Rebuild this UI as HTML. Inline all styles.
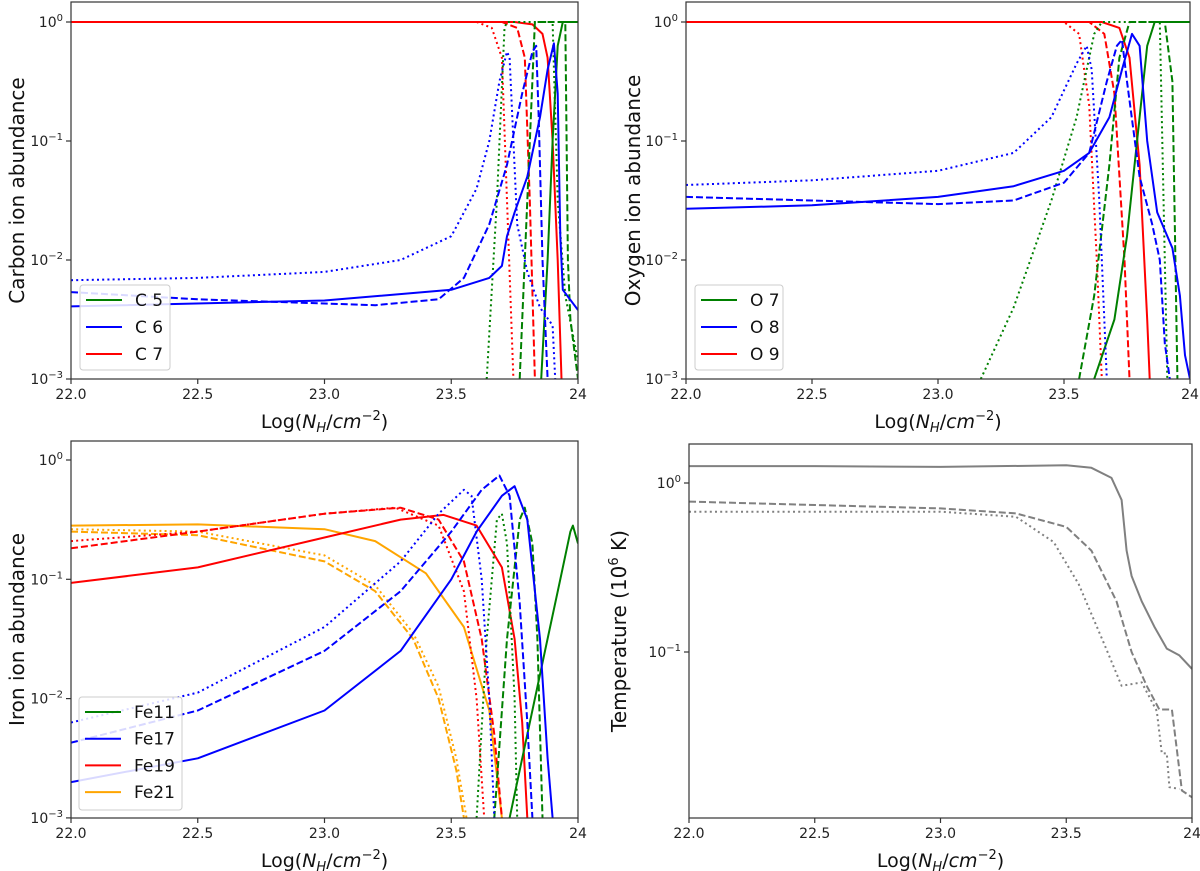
<!DOCTYPE html>
<html><head><meta charset="utf-8"><style>
body{margin:0;background:#fff;}
svg{display:block;font-family:"DejaVu Sans","Liberation Sans",sans-serif;}
</style></head><body>
<svg id="fig" width="1200" height="871" viewBox="0 0 1200 871" xmlns="http://www.w3.org/2000/svg"></svg>
<script>
// x values are log N_H, y values are log10 of abundance / temperature
const xTicks = [22.0, 22.5, 23.0, 23.5, 24];
const xTickLabels = ["22.0", "22.5", "23.0", "23.5", "24"];
const carbonYTicks = [0, -1, -2, -3];
const oxygenYTicks = [0, -1, -2, -3];
const ironYTicks = [0, -1, -2, -3];
const tempYTicks = [0, -1];

const c5Solid = [[23.855,-3],[23.88,-2],[23.9,-1],[23.92,-0.2],[23.94,0],[24,0]];
const c5Dashed = [[23.77,-3],[23.8,-1.5],[23.83,0],[23.95,0],[23.96,-2],[23.97,-2.5],[24,-3]];
const c5Dotted = [[23.64,-3],[23.68,-1.5],[23.71,-0.05],[23.72,0],[23.9,0],[23.92,-1.5],[23.95,-2.3],[24,-2.85]];
const c6Solid = [[22,-2.39],[23,-2.34],[23.5,-2.25],[23.65,-2.15],[23.7,-2.05],[23.72,-1.8],[23.75,-1.6],[23.8,-1.3],[23.85,-0.8],[23.88,-0.4],[23.905,-0.18],[23.92,-0.6],[23.93,-1.8],[23.94,-2.25],[24,-2.42]];
const c6Dashed = [[22,-2.27],[22.5,-2.33],[23.2,-2.38],[23.45,-2.33],[23.55,-2.15],[23.65,-1.7],[23.72,-1.2],[23.78,-0.6],[23.82,-0.25],[23.835,-0.2],[23.845,-0.8],[23.86,-2],[23.88,-3]];
const c6Dotted = [[22,-2.17],[22.5,-2.15],[23,-2.1],[23.3,-2.0],[23.5,-1.8],[23.6,-1.4],[23.65,-1.0],[23.69,-0.5],[23.72,-0.25],[23.73,-0.3],[23.76,-1.7],[23.8,-2.1],[23.85,-2.4],[23.9,-2.55],[23.91,-3]];
const c7Solid = [[22,0],[23.75,0],[23.82,-0.02],[23.86,-0.1],[23.88,-0.3],[23.9,-1],[23.92,-2],[23.935,-3]];
const c7Dashed = [[22,0],[23.7,0],[23.76,-0.05],[23.79,-0.3],[23.81,-1.5],[23.83,-3]];
const c7Dotted = [[22,0],[23.6,0],[23.66,-0.05],[23.7,-0.3],[23.72,-1.5],[23.745,-3]];

const o7Solid = [[23.62,-3],[23.7,-2.5],[23.75,-1.8],[23.8,-0.8],[23.83,-0.2],[23.86,0],[24,0]];
const o7Dashed = [[23.56,-3],[23.62,-2.3],[23.68,-1.2],[23.72,-0.3],[23.76,0],[23.9,0],[23.93,-0.5],[23.95,-3]];
const o7Dotted = [[23.17,-3],[23.3,-2.4],[23.45,-1.5],[23.55,-0.8],[23.62,-0.1],[23.65,0],[23.88,0],[23.89,-1],[23.91,-3]];
const o8Solid = [[22,-1.57],[22.5,-1.54],[23,-1.47],[23.3,-1.38],[23.5,-1.25],[23.6,-1.1],[23.68,-0.8],[23.73,-0.4],[23.77,-0.1],[23.8,-0.2],[23.83,-1.0],[23.87,-1.6],[23.93,-1.9],[23.96,-2.3],[23.98,-2.8],[24,-3]];
const o8Dashed = [[22,-1.47],[22.5,-1.5],[23,-1.53],[23.3,-1.5],[23.5,-1.35],[23.6,-1.1],[23.67,-0.5],[23.71,-0.2],[23.73,-0.15],[23.75,-0.5],[23.8,-1.3],[23.85,-1.7],[23.88,-2.0],[23.9,-2.7],[23.92,-3]];
const o8Dotted = [[22,-1.37],[22.5,-1.33],[23,-1.25],[23.3,-1.1],[23.45,-0.8],[23.55,-0.35],[23.59,-0.2],[23.61,-0.4],[23.64,-1.5],[23.66,-2.5],[23.67,-3]];
const o9Solid = [[22,0],[23.65,0],[23.72,-0.05],[23.76,-0.3],[23.8,-1.2],[23.83,-2.5],[23.84,-3]];
const o9Dashed = [[22,0],[23.6,0],[23.66,-0.1],[23.7,-0.6],[23.74,-2],[23.76,-3]];
const o9Dotted = [[22,0],[23.5,0],[23.56,-0.1],[23.6,-0.7],[23.63,-2],[23.65,-3]];

const fe11Solid = [[23.73,-3],[23.8,-2.3],[23.87,-1.6],[23.93,-1.0],[23.97,-0.6],[23.98,-0.55],[24,-0.7]];
const fe11Dashed = [[23.67,-3],[23.72,-1.5],[23.77,-0.5],[23.79,-0.4],[23.82,-0.7],[23.84,-1.5],[23.86,-3]];
const fe11Dotted = [[23.6,-3],[23.64,-1.5],[23.68,-0.5],[23.7,-0.45],[23.72,-0.7],[23.75,-2],[23.76,-3]];
const fe17Solid = [[22,-2.7],[22.5,-2.5],[23,-2.1],[23.3,-1.6],[23.5,-1.0],[23.6,-0.6],[23.7,-0.3],[23.75,-0.22],[23.8,-0.5],[23.85,-1.5],[23.88,-2.5],[23.9,-3]];
const fe17Dashed = [[22,-2.37],[22.5,-2.1],[23,-1.6],[23.3,-1.1],[23.5,-0.6],[23.62,-0.25],[23.69,-0.13],[23.73,-0.3],[23.77,-1.2],[23.8,-2.2],[23.82,-3]];
const fe17Dotted = [[22,-2.2],[22.5,-1.95],[23,-1.4],[23.3,-0.85],[23.45,-0.45],[23.55,-0.25],[23.58,-0.3],[23.62,-1],[23.65,-2],[23.67,-3]];
const fe19Solid = [[22,-1.03],[22.5,-0.9],[23,-0.65],[23.3,-0.5],[23.47,-0.46],[23.6,-0.55],[23.7,-0.9],[23.75,-1.5],[23.78,-2.2],[23.8,-3]];
const fe19Dashed = [[22,-0.74],[22.5,-0.6],[23,-0.45],[23.3,-0.4],[23.45,-0.5],[23.55,-0.85],[23.62,-1.5],[23.67,-2.3],[23.7,-3]];
const fe19Dotted = [[22,-0.68],[22.5,-0.6],[23,-0.45],[23.28,-0.4],[23.45,-0.55],[23.55,-1.1],[23.6,-2],[23.63,-3]];
const fe21Solid = [[22,-0.55],[22.5,-0.54],[23,-0.58],[23.2,-0.68],[23.4,-0.95],[23.55,-1.4],[23.65,-2.1],[23.7,-3]];
const fe21Dashed = [[22,-0.6],[22.5,-0.63],[23,-0.85],[23.2,-1.1],[23.35,-1.5],[23.45,-2],[23.52,-2.6],[23.55,-3]];
const fe21Dotted = [[22,-0.58],[22.5,-0.6],[23,-0.8],[23.2,-1.05],[23.35,-1.45],[23.45,-1.9],[23.52,-2.5],[23.56,-3]];

const tSolid = [[22,0.1],[22.5,0.1],[23,0.095],[23.5,0.105],[23.6,0.09],[23.68,0.03],[23.72,-0.1],[23.74,-0.4],[23.76,-0.55],[23.8,-0.7],[23.85,-0.85],[23.9,-0.98],[23.95,-1.02],[24,-1.1]];
const tDashed = [[22,-0.11],[22.5,-0.13],[23,-0.15],[23.3,-0.18],[23.5,-0.26],[23.6,-0.4],[23.7,-0.7],[23.76,-1.0],[23.82,-1.2],[23.87,-1.34],[23.92,-1.34],[23.95,-1.7],[23.96,-1.82],[24,-1.86]];
const tDotted = [[22,-0.17],[23,-0.17],[23.3,-0.2],[23.45,-0.35],[23.55,-0.6],[23.65,-0.95],[23.72,-1.2],[23.8,-1.18],[23.86,-1.35],[23.88,-1.6],[23.9,-1.6],[23.91,-1.8],[23.95,-1.81]];

const NS = "http://www.w3.org/2000/svg";
const svg = document.getElementById("fig");
function mk(tag, attrs, parent){const e=document.createElementNS(NS,tag);for(const k in attrs)e.setAttribute(k,attrs[k]);(parent||svg).appendChild(e);return e;}
const DASH = {solid:"", dashed:"7,3", dotted:"2,3.2"};
const supMinus = {"0":"0","-1":"−1","-2":"−2","-3":"−3"};

function panel(cfg){
  const g = mk("g",{});
  
  
  const sx = v => cfg.x0 + (v-22)/2*(cfg.x1-cfg.x0);
  const sy = v => cfg.yZero - v*cfg.dec;
  const cid = cfg.name+"-clip";
  const cp = mk("clipPath",{id:cid},g);
  mk("rect",{x:cfg.x0,y:cfg.top,width:cfg.x1-cfg.x0,height:cfg.bot-cfg.top},cp);
  const sg = mk("g",{"clip-path":"url(#"+cid+")"},g);
  cfg.series.forEach(s=>{
    const p = mk("polyline",{points:s.d.map(q=>sx(q[0]).toFixed(1)+","+sy(q[1]).toFixed(1)).join(" "),fill:"none",stroke:s.c,"stroke-width":2,"stroke-dasharray":DASH[s.st],"stroke-linejoin":"round"},sg);
    
    
  });
  const fr = mk("rect",{x:cfg.x0,y:cfg.top,width:cfg.x1-cfg.x0,height:cfg.bot-cfg.top,fill:"none",stroke:"#333","stroke-width":1.2},g);
  
  
  xTicks.forEach((t,i)=>{
    const x=sx(t);
    mk("line",{x1:x,x2:x,y1:cfg.bot,y2:cfg.bot+5,stroke:"#333","stroke-width":1.2},g);
    const tx=mk("text",{x:x,y:cfg.bot+20,"text-anchor":"middle","font-size":14,fill:"#222"},g);
    tx.textContent=xTickLabels[i];
    
    
  });
  const lo = Math.floor((cfg.yZero-cfg.bot)/cfg.dec*-1)-1, hi = 1;
  for(let d=lo; d<=hi; d++){
    for(let m=2;m<=9;m++){
      const y=sy(d+Math.log10(m));
      if(y>=cfg.top && y<=cfg.bot) mk("line",{x1:cfg.x0-3,x2:cfg.x0,y1:y,y2:y,stroke:"#333","stroke-width":1},g);
    }
  }
  cfg.yTicks.forEach(t=>{
    const y=sy(t);
    mk("line",{x1:cfg.x0-5,x2:cfg.x0,y1:y,y2:y,stroke:"#333","stroke-width":1.2},g);
    const tx=mk("text",{x:cfg.x0-8,y:y+5,"text-anchor":"end","font-size":14,fill:"#222"},g);
    
    
    tx.appendChild(document.createTextNode("10"));
    const ts=mk("tspan",{"font-size":10,dy:-6},tx); ts.textContent=supMinus[String(t)];
  });
  const xl=mk("text",{x:(cfg.x0+cfg.x1)/2,y:cfg.bot+49,"text-anchor":"middle","font-size":19,fill:"#111"},g);
  
  
  xl.innerHTML='Log(<tspan font-style="italic">N</tspan><tspan font-style="italic" font-size="13" dy="4">H</tspan><tspan dy="-4">/</tspan><tspan font-style="italic">cm</tspan><tspan font-size="13" dy="-8">−2</tspan><tspan dy="8">)</tspan>';
  const yl=mk("text",{x:0,y:0,"text-anchor":"middle","font-size":20,fill:"#111",transform:"translate("+cfg.ylx+","+((cfg.top+cfg.bot)/2)+") rotate(-90)"},g);
  
  
  yl.innerHTML=cfg.ylabel;
  if(cfg.legend){
    const L=cfg.legend;
    const lg=mk("g",{},g);
    
    
    mk("rect",{x:L.x,y:L.y,width:L.w,height:L.h,rx:3,fill:"#fff","fill-opacity":0.85,stroke:"#ccc","stroke-width":1},lg);
    L.items.forEach((it,i)=>{
      const yy=L.y+L.first+i*L.step;
      const e=mk("g",{},lg);
      
      
      mk("line",{x1:L.x+6,x2:L.x+42,y1:yy,y2:yy,stroke:it[1],"stroke-width":2},e);
      const t=mk("text",{x:L.x+55,y:yy+6,"font-size":17,fill:"#111"},e); t.textContent=it[0];
    });
  }
}

panel({name:"carbon-panel",x0:71,x1:578,top:2,bot:379,yZero:22,dec:119,yTicks:carbonYTicks,ylx:24,
  ylabel:"Carbon ion abundance",
  series:[
    {n:"c7-solid",d:c7Solid,c:"#ff0000",st:"solid"},{n:"c7-dashed",d:c7Dashed,c:"#ff0000",st:"dashed"},{n:"c7-dotted",d:c7Dotted,c:"#ff0000",st:"dotted"},
    {n:"c5-solid",d:c5Solid,c:"#008000",st:"solid"},{n:"c5-dashed",d:c5Dashed,c:"#008000",st:"dashed"},{n:"c5-dotted",d:c5Dotted,c:"#008000",st:"dotted"},
    {n:"c6-solid",d:c6Solid,c:"#0000ff",st:"solid"},{n:"c6-dashed",d:c6Dashed,c:"#0000ff",st:"dashed"},{n:"c6-dotted",d:c6Dotted,c:"#0000ff",st:"dotted"}],
  legend:{x:80,y:285,w:90,h:85,first:15,step:27,items:[["C 5","#008000"],["C 6","#0000ff"],["C 7","#ff0000"]]}});

panel({name:"oxygen-panel",x0:686,x1:1190,top:2,bot:379,yZero:22,dec:119,yTicks:oxygenYTicks,ylx:640,
  ylabel:"Oxygen ion abundance",
  series:[
    {n:"o9-solid",d:o9Solid,c:"#ff0000",st:"solid"},{n:"o9-dashed",d:o9Dashed,c:"#ff0000",st:"dashed"},{n:"o9-dotted",d:o9Dotted,c:"#ff0000",st:"dotted"},
    {n:"o7-solid",d:o7Solid,c:"#008000",st:"solid"},{n:"o7-dashed",d:o7Dashed,c:"#008000",st:"dashed"},{n:"o7-dotted",d:o7Dotted,c:"#008000",st:"dotted"},
    {n:"o8-solid",d:o8Solid,c:"#0000ff",st:"solid"},{n:"o8-dashed",d:o8Dashed,c:"#0000ff",st:"dashed"},{n:"o8-dotted",d:o8Dotted,c:"#0000ff",st:"dotted"}],
  legend:{x:695,y:285,w:88,h:85,first:15,step:27,items:[["O 7","#008000"],["O 8","#0000ff"],["O 9","#ff0000"]]}});

panel({name:"iron-panel",x0:71,x1:578,top:441,bot:818,yZero:460,dec:119.3,yTicks:ironYTicks,ylx:24,
  ylabel:"Iron ion abundance",
  series:[
    {n:"fe21-solid",d:fe21Solid,c:"#ffa500",st:"solid"},{n:"fe21-dashed",d:fe21Dashed,c:"#ffa500",st:"dashed"},{n:"fe21-dotted",d:fe21Dotted,c:"#ffa500",st:"dotted"},
    {n:"fe19-solid",d:fe19Solid,c:"#ff0000",st:"solid"},{n:"fe19-dashed",d:fe19Dashed,c:"#ff0000",st:"dashed"},{n:"fe19-dotted",d:fe19Dotted,c:"#ff0000",st:"dotted"},
    {n:"fe11-solid",d:fe11Solid,c:"#008000",st:"solid"},{n:"fe11-dashed",d:fe11Dashed,c:"#008000",st:"dashed"},{n:"fe11-dotted",d:fe11Dotted,c:"#008000",st:"dotted"},
    {n:"fe17-solid",d:fe17Solid,c:"#0000ff",st:"solid"},{n:"fe17-dashed",d:fe17Dashed,c:"#0000ff",st:"dashed"},{n:"fe17-dotted",d:fe17Dotted,c:"#0000ff",st:"dotted"}],
  legend:{x:79,y:697,w:103,h:113,first:15,step:26.7,items:[["Fe11","#008000"],["Fe17","#0000ff"],["Fe19","#ff0000"],["Fe21","#ffa500"]]}});

panel({name:"temperature-panel",x0:689,x1:1192,top:444,bot:818,yZero:483,dec:169,yTicks:tempYTicks,ylx:626,
  ylabel:'Temperature (10<tspan font-size="13" dy="-8">6</tspan><tspan dy="8"> K)</tspan>',
  series:[
    {n:"temperature-solid",d:tSolid,c:"#808080",st:"solid"},{n:"temperature-dashed",d:tDashed,c:"#808080",st:"dashed"},{n:"temperature-dotted",d:tDotted,c:"#808080",st:"dotted"}]});
</script>
</body></html>
